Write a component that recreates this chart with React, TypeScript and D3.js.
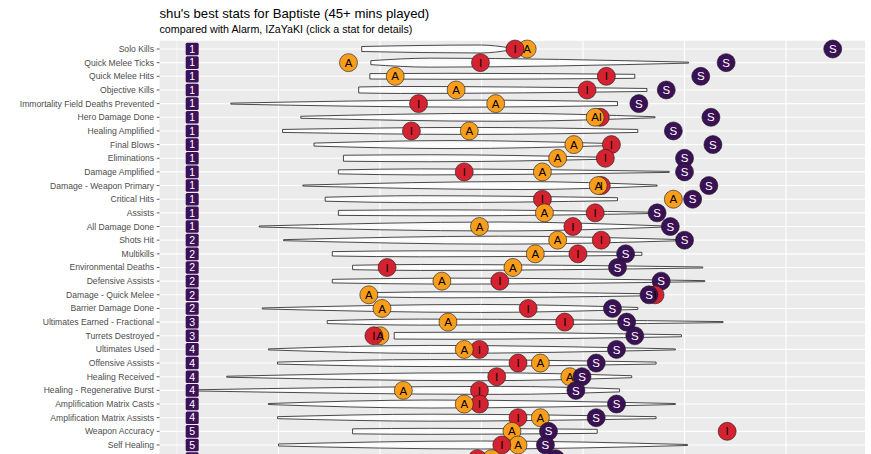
import React from 'react';
import * as d3 from 'd3';

// ---------- data ----------
const categories = [
  'Solo Kills', 'Quick Melee Ticks', 'Quick Melee Hits', 'Objective Kills',
  'Immortality Field Deaths Prevented', 'Hero Damage Done', 'Healing Amplified',
  'Final Blows', 'Eliminations', 'Damage Amplified', 'Damage - Weapon Primary',
  'Critical Hits', 'Assists', 'All Damage Done', 'Shots Hit', 'Multikills',
  'Environmental Deaths', 'Defensive Assists', 'Damage - Quick Melee',
  'Barrier Damage Done', 'Ultimates Earned - Fractional', 'Turrets Destroyed',
  'Ultimates Used', 'Offensive Assists', 'Healing Received',
  'Healing - Regenerative Burst', 'Amplification Matrix Casts',
  'Amplification Matrix Assists', 'Weapon Accuracy', 'Self Healing', 'Healing Done',
];
const ranks = [1,1,1,1,1,1,1,1,1,1,1,1,1,1,2,2,2,2,2,2,3,3,4,4,4,4,4,4,5,5,5];

// standardized values (z-scores) per player
const shuValues = [3.46,2.41,2.16,1.82,1.55,2.26,1.89,2.28,2.00,2.00,2.24,2.08,1.73,1.86,2.00,1.42,1.34,1.77,1.65,1.29,1.43,1.51,1.33,1.13,0.99,0.93,1.33,1.13,0.66,0.63,0.73];
const alarmValues = [0.45,-1.31,-0.85,-0.25,0.14,1.12,-0.12,0.91,0.75,0.60,1.15,1.89,0.62,-0.02,0.75,0.53,0.31,-0.39,-1.11,-0.98,-0.33,-1.00,-0.17,0.58,0.87,-0.77,-0.17,0.58,0.30,0.36,0.10];
const izaValues = [0.33,-0.01,1.23,1.04,-0.62,1.17,-0.69,1.28,1.22,-0.17,1.18,0.60,1.12,0.90,1.18,0.95,-0.93,0.18,1.71,0.46,0.82,-1.06,-0.02,0.36,0.15,-0.02,-0.02,0.36,2.42,0.20,-0.04];

// violin outlines: extent, densest point and relative densities
const violinLo = [-1.18,-1.09,-1.10,-1.21,-2.47,-1.78,-1.96,-1.65,-1.36,-1.41,-1.76,-1.54,-1.41,-2.19,-1.95,-1.47,-1.27,-1.47,-1.05,-2.16,-1.52,-0.86,-2.10,-2.01,-2.51,-2.87,-2.10,-2.01,-1.27,-2.00,-1.50];
const violinPeak = [-0.01,-0.50,-0.31,-0.80,-0.11,0.19,-0.11,-0.31,-0.50,-0.60,0.38,-0.60,-0.31,0.19,0.19,-0.60,-0.60,-0.31,-0.31,-0.01,-0.60,-0.31,-0.50,-0.50,-0.01,0.19,-0.50,-0.50,-0.50,-0.01,0.00];
const violinHi = [0.29,2.04,1.51,1.63,1.34,1.71,1.54,1.29,1.20,1.85,1.73,1.34,1.76,1.81,1.98,1.58,2.18,2.20,1.65,1.54,2.38,1.97,1.91,1.72,1.48,1.36,1.91,1.72,1.14,2.03,1.50];
const densityLo = [0.25,0.2,0.27,0.3,0.05,0.1,0.15,0.15,0.3,0.2,0.05,0.2,0.25,0.05,0.05,0.22,0.22,0.18,0.22,0.05,0.15,0.33,0.05,0.1,0.05,0.05,0.05,0.1,0.25,0.1,0.2];
const densityPeak = [0.4,0.45,0.3,0.35,0.35,0.4,0.35,0.4,0.35,0.3,0.4,0.35,0.3,0.45,0.4,0.3,0.3,0.3,0.3,0.4,0.3,0.35,0.4,0.35,0.4,0.4,0.4,0.35,0.3,0.4,0.35];
const densityHi = [0.1,0.05,0.2,0.15,0.2,0.05,0.15,0.1,0.1,0.05,0.05,0.15,0.05,0.05,0.05,0.15,0.05,0.05,0.1,0.1,0.05,0.1,0.05,0.1,0.1,0.15,0.05,0.1,0.2,0.05,0.1];

const xTicks = [-3, -2, -1, 0, 1, 2, 3];
const rankX = -2.85;

const title = "shu's best stats for Baptiste (45+ mins played)";
const subtitle = 'compared with Alarm, IZaYaKI (click a stat for details)';

const players = [
  { key: 'I', values: izaValues, fill: '#D52230', text: '#000000' },
  { key: 'A', values: alarmValues, fill: '#F99D1D', text: '#000000' },
  { key: 'S', values: shuValues, fill: '#3A1155', text: '#FFFFFF' },
];

const FONT = '"Liberation Sans", Arial, Helvetica, sans-serif';

export default function App() {
  React.useEffect(() => {
    document.body.style.margin = '0';
    document.body.style.overflow = 'hidden';
  }, []);

  const W = 871, H = 454;
  const left = 159.5, right = 865;
  const x = d3.scaleLinear().domain([-3.172, 3.778]).range([left, right]);
  const y = d3.scalePoint<string>().domain(categories).range([49, 49 + 30 * 13.655]);
  const step = y.step();
  const top = 49 - 0.6 * step;
  const K = 10; // px per density unit
  const R = 9;

  const violins = categories.map((c, i) => {
    const cy = y(c)!;
    const pts: [number, number][] = [
      [violinLo[i], densityLo[i]],
      [violinPeak[i], densityPeak[i]],
      [violinHi[i], densityHi[i]],
    ];
    const area = d3.area<[number, number]>()
      .x(d => x(d[0]))
      .y0(d => cy - d[1] * K)
      .y1(d => cy + d[1] * K)
      .curve(d3.curveMonotoneX);
    return area(pts) as string;
  });

  // comparison players: larger value first (smaller drawn on top), shu last
  const marks: { cx: number; cy: number; p: typeof players[number] }[] = [];
  categories.forEach((c, i) => {
    const cy = y(c)!;
    const others = [players[0], players[1]].slice().sort((a, b) => b.values[i] - a.values[i]);
    others.forEach(p => marks.push({ cx: x(p.values[i]), cy, p }));
    marks.push({ cx: x(players[2].values[i]), cy, p: players[2] });
  });

  return (
    <div style={{ position: 'absolute', left: 0, top: 0 }}>
      <svg width={W} height={H} style={{ display: 'block', fontFamily: FONT }}>
        <rect x={0} y={0} width={W} height={H} fill="#FFFFFF" />
        <text x={left} y={17.5} fontSize={13.2} fill="#000">{title}</text>
        <text x={left} y={33} fontSize={10.7} fill="#000">{subtitle}</text>

        <rect x={left} y={top} width={right - left} height={H - top + 20} fill="#EBEBEB" />
        {categories.map(c => (
          <line key={'hg' + c} x1={left} x2={right} y1={y(c)} y2={y(c)} stroke="#FFFFFF" strokeWidth={1.1} />
        ))}
        {xTicks.map(t => (
          <line key={'vg' + t} x1={x(t)} x2={x(t)} y1={top} y2={H + 20} stroke="#FFFFFF" strokeWidth={t === -3 ? 0.6 : 1.1} />
        ))}

        {violins.map((d, i) => (
          <path key={'v' + i} d={d} fill="#FFFFFF" fillOpacity={0.75} stroke="#2A2A2A" strokeWidth={0.85} />
        ))}

        {categories.map((c, i) => (
          <g key={'r' + c}>
            <rect x={x(rankX) - 6.5} y={y(c)! - 6.3} width={13} height={12.6} rx={1.5} fill="#3D1158" />
            <text x={x(rankX)} y={y(c)!} dy="0.36em" textAnchor="middle" fontSize={10.5} fill="#FFFFFF">{ranks[i]}</text>
          </g>
        ))}

        {marks.map((m, k) => (
          <circle key={'c' + k} cx={m.cx} cy={m.cy} r={R} fill={m.p.fill} stroke="#1A1A1A" strokeWidth={0.6} />
        ))}
        {marks.map((m, k) => (
          <text key={'t' + k} x={m.cx} y={m.cy} dy="0.36em" textAnchor="middle" fontSize={11.5} fill={m.p.text}>{m.p.key}</text>
        ))}

        {categories.map(c => (
          <g key={'yl' + c}>
            <line x1={left - 2.8} x2={left} y1={y(c)} y2={y(c)} stroke="#333333" strokeWidth={0.8} />
            <text x={left - 5.5} y={y(c)} dy="0.35em" textAnchor="end" fontSize={8.6} fill="#4D4D4D">{c}</text>
          </g>
        ))}
      </svg>
    </div>
  );
}
